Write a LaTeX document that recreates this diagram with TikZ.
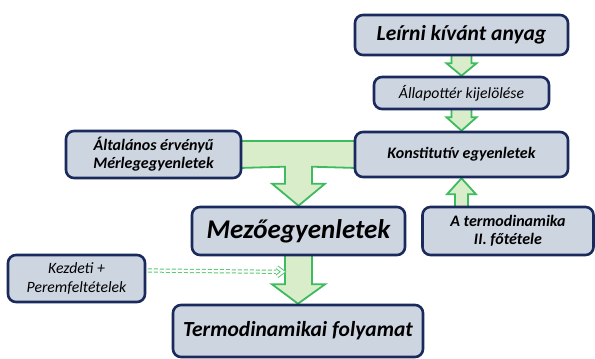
\documentclass[tikz,border=0pt]{standalone}
\usepackage{fontspec}
\setmainfont{Carlito}
\usetikzlibrary{calc,backgrounds,arrows.meta}
\definecolor{boxfill}{HTML}{CDD5E1}
\definecolor{boxline}{HTML}{1B2A5C}
\definecolor{arrfill}{HTML}{D9EDCB}
\definecolor{arrline}{HTML}{3DBB5E}
\definecolor{dashline}{HTML}{5CC873}
\tikzset{
  bx/.style={draw=boxline, fill=boxfill, line width=2.6pt, rounded corners=8pt, align=center, inner sep=0pt, text=black},
  bigtxt/.style={font=\bfseries\itshape\fontsize{21.5}{24}\selectfont},
  midtxt/.style={font=\bfseries\itshape\fontsize{16}{18}\selectfont},
  smltxt/.style={font=\itshape\fontsize{15.7}{18.5}\selectfont},
  blk/.style={draw=arrline, fill=arrfill, line width=1.8pt, line join=miter},
  dbl/.style={draw=dashline, double=white, double distance=2.2pt, line width=1pt},
  dblarrow/.style={dbl, dash pattern=on 4pt off 2pt}
}
\begin{document}
\begin{tikzpicture}[x=1pt,y=-1pt]
\useasboundingbox (0,0) rectangle (595,359);
\node[bx,bigtxt,minimum width=213pt,minimum height=40pt] (leirni) at (461.5,35) {Leírni kívánt anyag};
\node[bx,smltxt,minimum width=175pt,minimum height=32pt] (allapot) at (461.5,93) {Állapottér kijelölése};
\node[bx,midtxt,minimum width=213pt,minimum height=45pt] (konst) at (461.5,154.5) {Konstitutív egyenletek};
\node[bx,midtxt,minimum width=175pt,minimum height=47pt] (altal) at (153.5,154.5) {Általános érvényű\\Mérlegegyenletek};
\node[bx,font=\bfseries\itshape\fontsize{27}{30}\selectfont,minimum width=213pt,minimum height=48pt] (mezo) at (298.5,231) {Mezőegyenletek};
\node[bx,midtxt,minimum width=171pt,minimum height=48pt] (masodik) at (508,231) {A termodinamika\\II. főtétele};
\node[bx,smltxt,minimum width=137pt,minimum height=47pt] (kezd) at (76.5,278.5) {Kezdeti +\\Peremfeltételek};
\node[bx,font=\bfseries\itshape\fontsize{21.5}{24}\selectfont,minimum width=250pt,minimum height=52pt] (termo) at (298,331) {Termodinamikai folyamat};
\begin{pgfonlayer}{background}
% leirni -> allapot
\draw[blk] ($(leirni.south)+(-10,-2)$) -- ($(leirni.south)+(10,-2)$) -- ($(leirni.south)+(10,7)$) -- ($(leirni.south)+(15,7)$)
  -- (allapot.north) -- ($(leirni.south)+(-15,7)$) -- ($(leirni.south)+(-10,7)$) -- cycle;
% allapot -> konst
\draw[blk] ($(allapot.south)+(-10,-2)$) -- ($(allapot.south)+(10,-2)$) -- ($(allapot.south)+(10,7)$) -- ($(allapot.south)+(15,7)$)
  -- (konst.north) -- ($(allapot.south)+(-15,7)$) -- ($(allapot.south)+(-10,7)$) -- cycle;
% masodik -> konst (up)
\draw[blk] ($(masodik.north -| konst.south)+(-6.5,2)$) -- ($(masodik.north -| konst.south)+(6.5,2)$) -- ($(konst.south)+(6.5,16)$) -- ($(konst.south)+(14.5,16)$)
  -- (konst.south) -- ($(konst.south)+(-14.5,16)$) -- ($(konst.south)+(-6.5,16)$) -- cycle;
% T connector altal + konst -> mezo
\draw[blk] ($(altal.east)+(-3,-13.5)$) -- ($(konst.west)+(3,-13.5)$) -- ($(konst.west)+(3,13.5)$)
  -- ($(mezo.north)+(13.5,-39)$) -- ($(mezo.north)+(13.5,-22)$) -- ($(mezo.north)+(26.5,-22)$)
  -- (mezo.north) -- ($(mezo.north)+(-26.5,-22)$) -- ($(mezo.north)+(-13.5,-22)$) -- ($(mezo.north)+(-13.5,-39)$)
  -- ($(altal.east)+(-3,13.5)$) -- cycle;
% mezo -> termo
\draw[blk] ($(mezo.south)+(-13.5,-2)$) -- ($(mezo.south)+(13.5,-2)$) -- ($(mezo.south)+(13.5,28)$) -- ($(mezo.south)+(26.5,28)$)
  -- (termo.north) -- ($(mezo.south)+(-26.5,28)$) -- ($(mezo.south)+(-13.5,28)$) -- cycle;
\end{pgfonlayer}
\coordinate (dashtip) at ($(mezo.south)+(-15.5,15.5)$);
\draw[dblarrow] ($(kezd.east)+(1.5,-8)$) -- ($(dashtip)+(-7,0)$);
\draw[dbl, line join=miter] ($(dashtip)+(-6,-4.5)$) -- (dashtip) -- ($(dashtip)+(-6,4.5)$);
\end{tikzpicture}
\end{document}
